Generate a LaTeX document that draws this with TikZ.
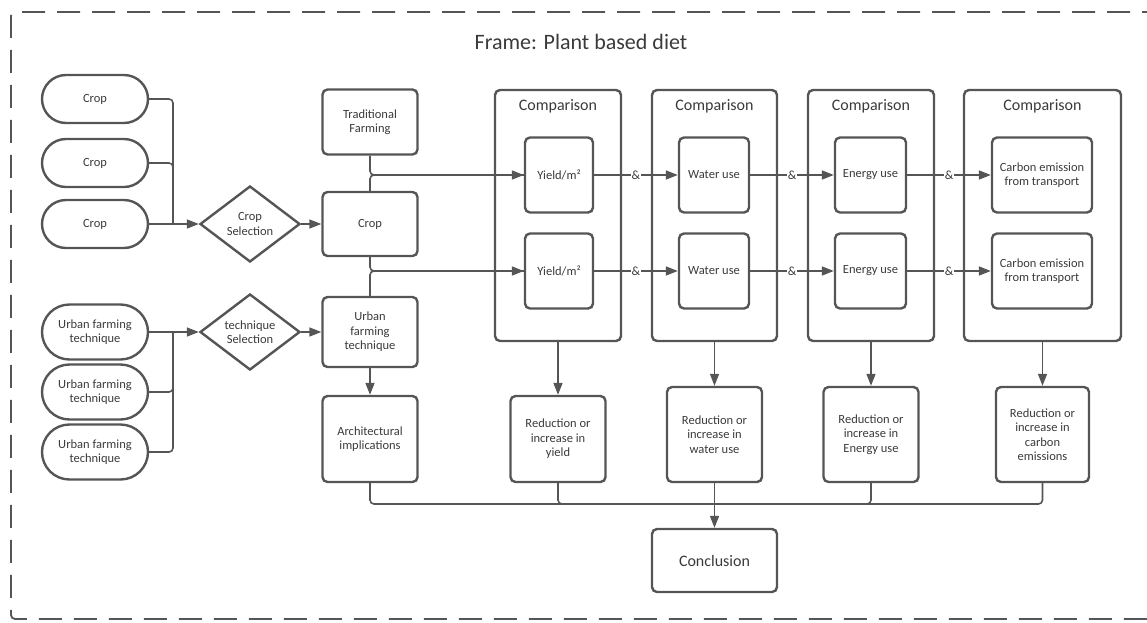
\documentclass[tikz,border=0pt]{standalone}
\usepackage{fontspec}
\setmainfont{Carlito}
\usepackage{tikz}
\usetikzlibrary{positioning,arrows.meta,shapes.geometric,shapes.misc}
\definecolor{ink}{HTML}{555555}
\definecolor{txt}{HTML}{3A3A3A}

\begin{document}
\begin{tikzpicture}[x=1pt,y=-1pt,
 every node/.style={font=\fontsize{12.5}{14.5}\selectfont,text=txt,align=center},
 box/.style={draw=ink,line width=2.4pt,rounded corners=5pt,inner sep=0pt},
 pill/.style={draw=ink,line width=2.4pt,rounded rectangle,minimum width=106pt,inner sep=0pt},
 choice/.style={draw=ink,line width=2.4pt,diamond,shape aspect=1.32,minimum width=100pt,minimum height=76pt,inner sep=0pt},
 cmp/.style={box,minimum height=251pt,label={[anchor=north,yshift=-7pt,font=\fontsize{16}{18}\selectfont]north:Comparison}},
 wire/.style={draw=ink,line width=1.6pt},
 flow/.style={wire,-{Triangle[length=12pt,width=9pt]}},
 amp/.style={fill=white,inner sep=1pt}]
 \useasboundingbox (0,0) rectangle (1147,622);
 \draw[ink,line width=1.8pt,dash pattern=on 23pt off 12pt,rounded corners=4pt]
  (1200,12) -- (11,12) -- (11,619) -- (1200,619);
 \node[font=\fontsize{22}{26}\selectfont] (title) at (581,42) {Frame: Plant based diet};
 % comparison frames
 \node[cmp,minimum width=126pt] (cmp1) at (558,215.5) {};
 \node[cmp,minimum width=125pt] (cmp2) at (714.5,215.5) {};
 \node[cmp,minimum width=126pt] (cmp3) at (871,215.5) {};
 \node[cmp,minimum width=157pt] (cmp4) at (1042.5,215.5) {};
 % inputs
 \node[pill,minimum height=48pt] (crop1) at (95,99) {Crop};
 \node[pill,minimum height=48pt] (crop2) at (95,163) {Crop};
 \node[pill,minimum height=48pt] (crop3) at (95,224) {Crop};
 \node[pill,minimum height=55pt] (urb1) at (95,332) {Urban farming\\technique};
 \node[pill,minimum height=55pt] (urb2) at (95,392) {Urban farming\\technique};
 \node[pill,minimum height=55pt] (urb3) at (95,452) {Urban farming\\technique};
 \node[choice] (cropsel) at (250,224) {Crop\\Selection};
 \node[choice] (techsel) at (250,332) {technique\\Selection};
 \coordinate (cjoin) at (173,224);
 \coordinate (tjoin) at (173,332);
 \node[box,minimum width=95pt,minimum height=65pt] (trad) at (370,122) {Traditional\\Farming};
 \node[box,minimum width=95pt,minimum height=64pt] (cropbox) at (370,224) {Crop};
 \node[box,minimum width=95pt,minimum height=70pt] (urbbox) at (370,332) {Urban\\farming\\technique};
 \node[box,minimum width=95pt,minimum height=86pt] (arch) at (370,439) {Architectural\\implications};
 % measures
 \node[box,minimum width=68pt,minimum height=75pt] (yield1) at (559,175) {Yield/m²};
 \node[box,minimum width=68pt,minimum height=75pt] (yield2) at (559,271) {Yield/m²};
 \node[box,minimum width=70pt,minimum height=75pt] (water1) at (714,175) {Water use};
 \node[box,minimum width=70pt,minimum height=75pt] (water2) at (714,271) {Water use};
 \node[box,minimum width=71pt,minimum height=75pt] (energy1) at (870.5,175) {Energy use};
 \node[box,minimum width=71pt,minimum height=75pt] (energy2) at (870.5,271) {Energy use};
 \node[box,minimum width=100pt,minimum height=75pt] (carbon1) at (1042,175) {Carbon emission\\from transport};
 \node[box,minimum width=100pt,minimum height=75pt] (carbon2) at (1042,271) {Carbon emission\\from transport};
 % results
 \node[box,minimum width=95pt,minimum height=86pt] (resyield) at (558,439) {Reduction or\\increase in\\yield};
 \node[box,minimum width=95pt,minimum height=95pt] (reswater) at (714.5,434.5) {Reduction or\\increase in\\water use};
 \node[box,minimum width=95pt,minimum height=95pt] (resenergy) at (871,434.5) {Reduction or\\increase in\\Energy use};
 \node[box,minimum width=93pt,minimum height=95pt] (rescarbon) at (1042.5,434.5) {Reduction or\\increase in\\carbon\\emissions};
 \node[box,minimum width=125pt,minimum height=63pt,font=\fontsize{16}{18}\selectfont] (concl) at (714.5,560.5) {Conclusion};
 \coordinate (bjoin) at (714.5,504);
 % connectors
 \draw[wire,rounded corners=4pt] (crop1.east) -| (cjoin);
 \draw[wire,rounded corners=4pt] (crop2.east) -| (cjoin);
 \draw[flow] (crop3.east) -- (cropsel.west);
 \draw[wire,rounded corners=4pt] (urb3.east) -| (tjoin);
 \draw[wire,rounded corners=4pt] (urb2.east) -| (tjoin);
 \draw[flow] (urb1.east) -- (techsel.west);
 \draw[flow] (cropsel.east) -- (cropbox.west);
 \draw[flow] (techsel.east) -- (urbbox.west);
 \draw[wire,rounded corners=4pt] (cropbox.north) |- (yield1.west);
 \draw[flow,rounded corners=4pt] (trad.south) |- (yield1.west);
 \draw[wire,rounded corners=4pt] (urbbox.north) |- (yield2.west);
 \draw[flow,rounded corners=4pt] (cropbox.south) |- (yield2.west);
 \draw[flow] (yield1) -- node[amp]{\&} (water1);
 \draw[flow] (water1) -- node[amp]{\&} (energy1);
 \draw[flow] (energy1) -- node[amp]{\&} (carbon1);
 \draw[flow] (yield2) -- node[amp]{\&} (water2);
 \draw[flow] (water2) -- node[amp]{\&} (energy2);
 \draw[flow] (energy2) -- node[amp]{\&} (carbon2);
 \draw[flow] (urbbox) -- (arch);
 \draw[flow] (cmp1) -- (resyield);
 \draw[flow] (cmp2) -- (reswater);
 \draw[flow] (cmp3) -- (resenergy);
 \draw[flow] (cmp4) -- (rescarbon);
 \draw[wire,rounded corners=4pt] (arch.south) |- (bjoin);
 \draw[wire,rounded corners=4pt] (resyield.south) |- (bjoin);
 \draw[wire,rounded corners=4pt] (resenergy.south) |- (bjoin);
 \draw[wire,rounded corners=4pt] (rescarbon.south) |- (bjoin);
 \draw[flow] (reswater) -- (concl);
\end{tikzpicture}
\end{document}
